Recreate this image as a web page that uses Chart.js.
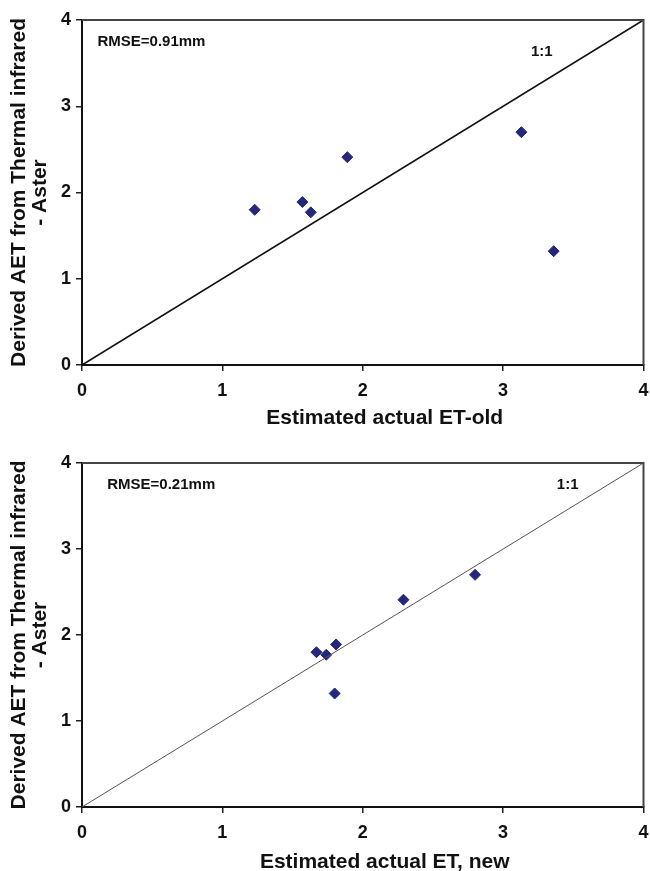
<!DOCTYPE html>
<html>
<head>
<meta charset="utf-8">
<script src="https://cdn.jsdelivr.net/npm/chart.js@4.4.1/dist/chart.umd.min.js"></script>
<style>
  html, body { margin: 0; padding: 0; background: #fff; overflow: hidden; }
  canvas { display: block; }
</style>
</head>
<body>
<canvas id="oldChart" width="650" height="430"></canvas>
<canvas id="newChart" width="650" height="446"></canvas>
<script>
// values
const asterAET = [1.80, 1.89, 1.77, 2.41, 2.70, 1.32];
const etOld = [1.23, 1.57, 1.63, 1.89, 3.13, 3.36];
const etNew = [1.67, 1.81, 1.74, 2.29, 2.80, 1.80];
const asterAETNew = [1.80, 1.89, 1.77, 2.41, 2.70, 1.32];
const oneToOne = [0, 4];
const axisTicks = [0, 1, 2, 3, 4];

const FONT = '"Liberation Sans", Arial, sans-serif';
const NAVY = '#25287a';

// text notes, x title (sits a bit right of centre in the original) and the box
const notesPlugin = {
    id: 'notes',
    afterDatasetsDraw(chart, args, opts) {
        const ctx = chart.ctx;
        const xs = chart.scales.x, ys = chart.scales.y;
        const a = chart.chartArea;
        ctx.save();
        ctx.fillStyle = '#111';
        ctx.font = 'bold 15px ' + FONT;
        ctx.textBaseline = 'middle';
        (opts.items || []).forEach(n => {
            ctx.textAlign = n.align || 'left';
            ctx.fillText(n.text, xs.getPixelForValue(n.x), ys.getPixelForValue(n.y));
        });
        if (opts.xTitle) {
            ctx.font = 'bold 21px ' + FONT;
            ctx.textAlign = 'center';
            ctx.fillText(opts.xTitle, (a.left + a.right) / 2 + opts.xTitleDx, chart.height - opts.xTitleUp);
        }
        ctx.strokeStyle = '#444';
        ctx.lineWidth = 2;
        ctx.beginPath();
        ctx.moveTo(a.left, a.top);
        ctx.lineTo(a.right, a.top);
        ctx.lineTo(a.right, a.bottom);
        ctx.stroke();
        ctx.restore();
    }
};

function makeChart(id, xVals, yVals, xTitle, lineColor, lineWidth, notes, padTop, xHeight, titleUp) {
    const points = xVals.map((x, i) => ({ x: x, y: yVals[i] }));
    return new Chart(document.getElementById(id), {
        type: 'scatter',
        data: {
            datasets: [
                {
                    label: '1:1',
                    data: oneToOne.map(v => ({ x: v, y: v })),
                    showLine: true,
                    borderColor: lineColor,
                    borderWidth: lineWidth,
                    pointRadius: 0
                },
                {
                    label: 'AET',
                    data: points,
                    pointStyle: 'rectRot',
                    pointRadius: 5.5,
                    borderWidth: 1,
                    backgroundColor: NAVY,
                    borderColor: NAVY
                }
            ]
        },
        options: {
            responsive: false,
            animation: false,
            layout: { padding: { top: padTop, right: 5, left: 0, bottom: 0 } },
            plugins: {
                legend: { display: false },
                tooltip: { enabled: false },
                notes: { items: notes, xTitle: xTitle, xTitleDx: 22, xTitleUp: titleUp }
            },
            scales: {
                x: {
                    type: 'linear', min: 0, max: 4,
                    afterBuildTicks: s => { s.ticks = axisTicks.map(v => ({ value: v })); },
                    afterFit: s => { s.height = xHeight; s.paddingLeft = 0; s.paddingRight = 0; },
                    grid: { drawOnChartArea: false, tickLength: 6, color: '#222', lineWidth: 1.5 },
                    border: { color: '#111', width: 2 },
                    ticks: { color: '#111', padding: 9, font: { family: FONT, size: 18, weight: 'bold' } }
                },
                y: {
                    type: 'linear', min: 0, max: 4,
                    afterBuildTicks: s => { s.ticks = axisTicks.map(v => ({ value: v })); },
                    afterFit: s => { s.width = 82; s.paddingTop = 0; s.paddingBottom = 0; },
                    grid: { drawOnChartArea: false, tickLength: 6, color: '#222', lineWidth: 1.5 },
                    border: { color: '#111', width: 2 },
                    ticks: { color: '#111', padding: 5, font: { family: FONT, size: 18, weight: 'bold' } },
                    title: {
                        display: true,
                        text: ['Derived AET from Thermal infrared', '- Aster'],
                        color: '#111',
                        padding: { top: 8, bottom: 0 },
                        font: { family: FONT, size: 21, weight: 'bold', lineHeight: 1.02 }
                    }
                }
            }
        },
        plugins: [notesPlugin]
    });
}

makeChart('oldChart', etOld, asterAET, 'Estimated actual ET-old', '#111', 1.6, [
    { text: 'RMSE=0.91mm', x: 0.11, y: 3.745 },
    { text: '1:1', x: 3.275, y: 3.63, align: 'center' }
], 20, 65, 12);

makeChart('newChart', etNew, asterAETNew, 'Estimated actual ET, new', '#555', 1, [
    { text: 'RMSE=0.21mm', x: 0.18, y: 3.744 },
    { text: '1:1', x: 3.46, y: 3.744, align: 'center' }
], 33, 69, 14);
</script>
</body>
</html>
